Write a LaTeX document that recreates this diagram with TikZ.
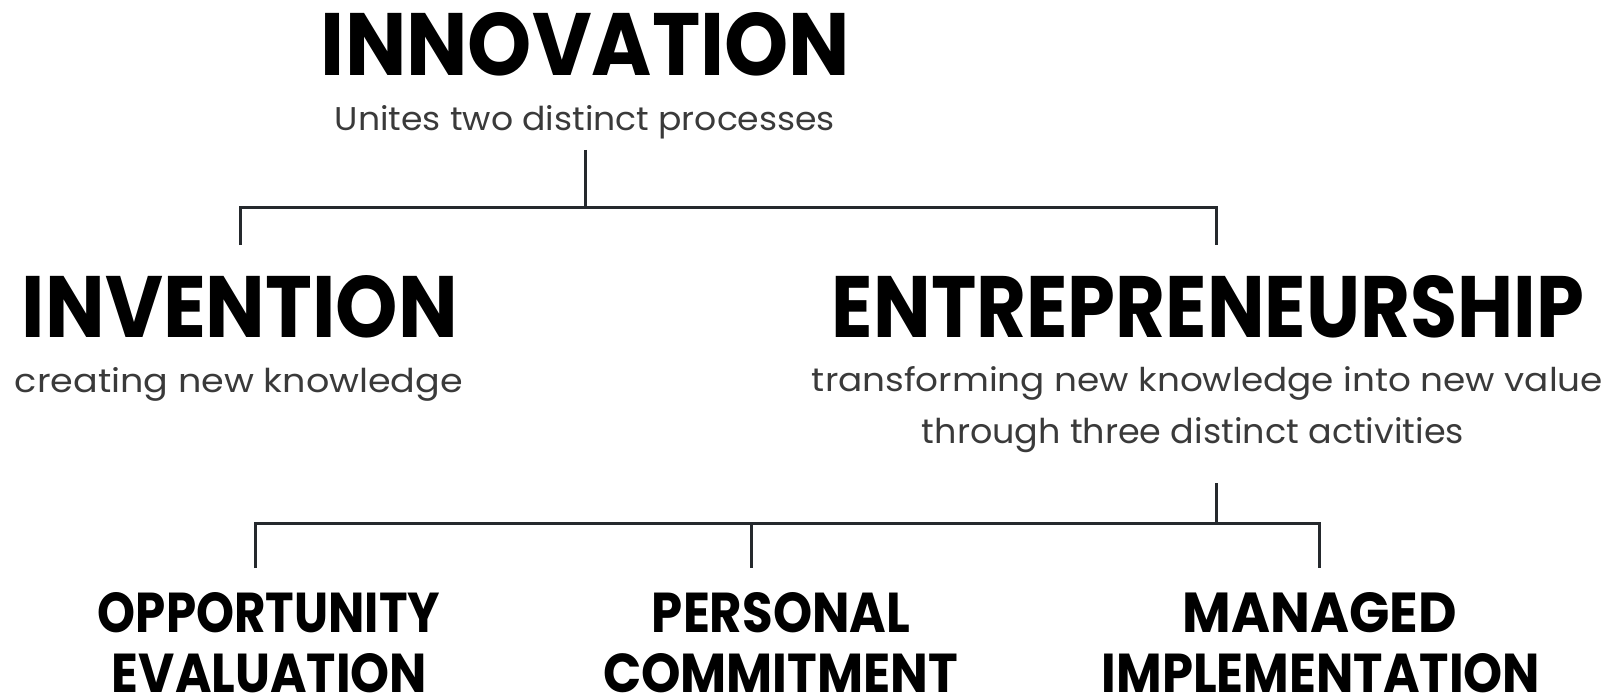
\documentclass[tikz,border=0pt]{standalone}
\usepackage{fontspec}
\usepackage{graphicx}
\newfontfamily\hfont{Poppins}
\newfontfamily\lfont{Poppins}
\definecolor{linecol}{HTML}{25292D}
\definecolor{subcol}{HTML}{3A3A3A}
\newcommand{\fitto}[3]{\resizebox{#1pt}{#2pt}{#3}}
\tikzset{
  hdr/.style={inner sep=0pt, anchor=base, font=\hfont\bfseries, text=black},
  subtxt/.style={inner sep=0pt, anchor=base, font=\lfont, text=subcol},
  conn/.style={draw=linecol, line width=3pt, line join=miter},
}
\begin{document}
\begin{tikzpicture}[x=1pt,y=-1pt]
\fill[white] (0,0) rectangle (1621,695);
\useasboundingbox (0,0) rectangle (1621,695);

% top level
\node[hdr] (innov) at (585.5,76) {\fitto{529}{63}{INNOVATION}};
\node[subtxt] (innovsub) at (585,131) {\fitto{500}{25}{Unites two distinct processes}};

% second level
\node[hdr] (inv) at (240,337) {\fitto{436}{62}{INVENTION}};
\node[subtxt] (invsub) at (239,392) {\fitto{448}{25}{creating new knowledge}};
\node[hdr] (ent) at (1208,337) {\fitto{752}{62}{ENTREPRENEURSHIP}};
\node[subtxt] (entsuba) at (1207.5,391) {\fitto{791}{25}{transforming new knowledge into new value}};
\node[subtxt] (entsubb) at (1193,443) {\fitto{542}{26}{through three distinct activities}};

% third level
\node[hdr] (oppa) at (269,632) {\fitto{342}{40}{OPPORTUNITY}};
\node[hdr] (oppb) at (269.5,692) {\fitto{315}{39}{EVALUATION}};
\node[hdr] (pera) at (781,632) {\fitto{258}{40}{PERSONAL}};
\node[hdr] (perb) at (780.5,692) {\fitto{355}{39}{COMMITMENT}};
\node[hdr] (mana) at (1320,632) {\fitto{274}{40}{MANAGED}};
\node[hdr] (manb) at (1321,692) {\fitto{438}{39}{IMPLEMENTATION}};

% connector coordinates
\coordinate (topa) at (585,150);
\coordinate (topb) at (585,207);
\coordinate (barl) at (240,207);
\coordinate (barr) at (1216,207);
\coordinate (invtop) at (240,245);
\coordinate (enttop) at (1216,245);

\coordinate (enta) at (1216,483);
\coordinate (entb) at (1216,523);
\coordinate (lowl) at (255,523);
\coordinate (lowm) at (751,523);
\coordinate (lowr) at (1319,523);
\coordinate (opptop) at (255,568);
\coordinate (pertop) at (751,568);
\coordinate (mantop) at (1319,568);

\draw[conn] (topa) -- (topb);
\draw[conn] (invtop) -- (barl) -- (barr) -- (enttop);
\draw[conn] (enta) -- (entb);
\draw[conn] (opptop) -- (lowl) -- (lowr) -- (mantop);
\draw[conn] (lowm) -- (pertop);
\end{tikzpicture}
\end{document}
